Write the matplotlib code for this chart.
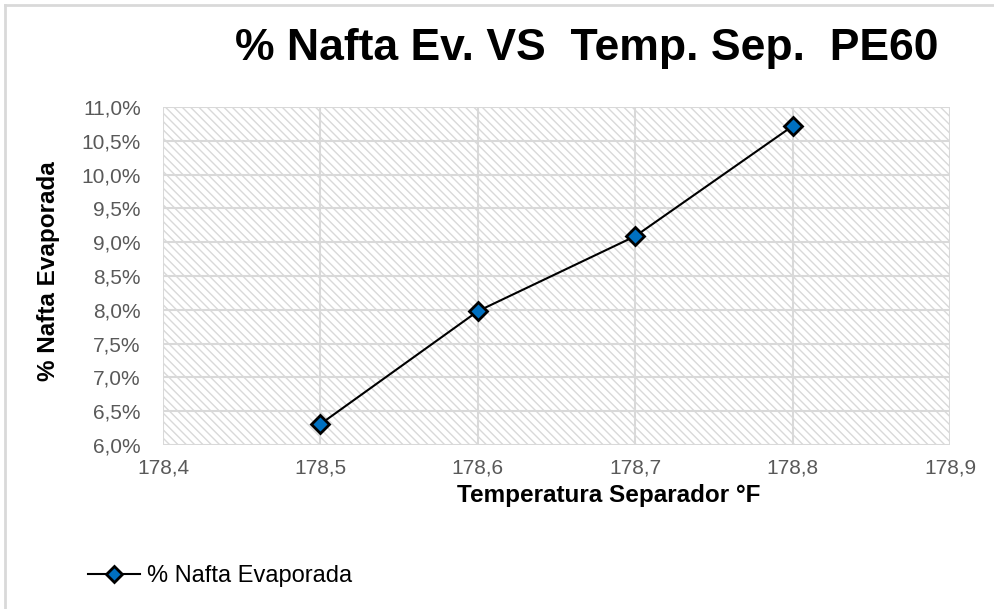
import matplotlib
matplotlib.use("Agg")
import matplotlib.pyplot as plt
from matplotlib.patches import Rectangle
from matplotlib.lines import Line2D
from matplotlib.ticker import FuncFormatter, MultipleLocator

plt.rcParams['font.family'] = ['Liberation Sans', 'DejaVu Sans']
plt.rcParams['hatch.color'] = '#d9d9d9'
plt.rcParams['hatch.linewidth'] = 1.0

temps = [178.5, 178.6, 178.7, 178.8]
nafta_pct = [6.31, 7.98, 9.09, 10.72]
series_name = "% Nafta Evaporada"
title = "% Nafta Ev. VS  Temp. Sep.  PE60"
xlabel = "Temperatura Separador °F"
ylabel = "% Nafta Evaporada"

fig = plt.figure(figsize=(9.94, 6.09), dpi=100)
ax = fig.add_axes([0.164, 0.2693, 0.792, 0.5550])

# hatched background
ax.add_patch(Rectangle((0, 0), 1, 1, transform=ax.transAxes, facecolor='white',
                       edgecolor='#d9d9d9', hatch='\\\\\\\\', linewidth=0, zorder=0))

ax.set_xlim(178.4, 178.9)
ax.set_ylim(6.0, 11.0)
ax.xaxis.set_major_locator(MultipleLocator(0.1))
ax.yaxis.set_major_locator(MultipleLocator(0.5))
ax.xaxis.set_major_formatter(FuncFormatter(lambda v, p: f"{v:.1f}".replace('.', ',')))
ax.yaxis.set_major_formatter(FuncFormatter(lambda v, p: f"{v:.1f}%".replace('.', ',')))
ax.grid(True, color='#d9d9d9', linewidth=1.5, zorder=1)
ax.set_axisbelow(True)
for s in ax.spines.values():
    s.set_visible(False)
ax.tick_params(length=0, labelsize=15, labelcolor='#595959')
ax.tick_params(axis='y', pad=16)
ax.tick_params(axis='x', pad=10)

ax.plot(temps, nafta_pct, color='black', linewidth=1.5, marker='D', markersize=9,
        markerfacecolor='#0070c0', markeredgecolor='black', markeredgewidth=2, zorder=3,
        clip_on=False)

fig.text(0.5905, 0.921, title, ha='center', va='center', fontsize=32, fontweight='bold')
fig.text(0.612, 0.187, xlabel, ha='center', va='center', fontsize=17.5, fontweight='bold')
fig.text(0.049, 0.554, ylabel, ha='center', va='center', fontsize=17.5, fontweight='bold',
         rotation=90)

handle = Line2D([], [], color='black', linewidth=1.5, marker='D', markersize=8,
                markerfacecolor='#0070c0', markeredgecolor='black', markeredgewidth=2)
fig.legend([handle], [series_name], loc='center left', bbox_to_anchor=(0.0765, 0.054),
           frameon=False, fontsize=17, handlelength=2.2, handletextpad=0.3, borderpad=0)

# chart border (left and top)
fig.add_artist(Line2D([0.0055, 0.0055], [0, 0.991], color='#d9d9d9', linewidth=2,
                      transform=fig.transFigure))
fig.add_artist(Line2D([0.0055, 1.0], [0.991, 0.991], color='#d9d9d9', linewidth=2,
                      transform=fig.transFigure))

fig.savefig('out.png', dpi=100)
